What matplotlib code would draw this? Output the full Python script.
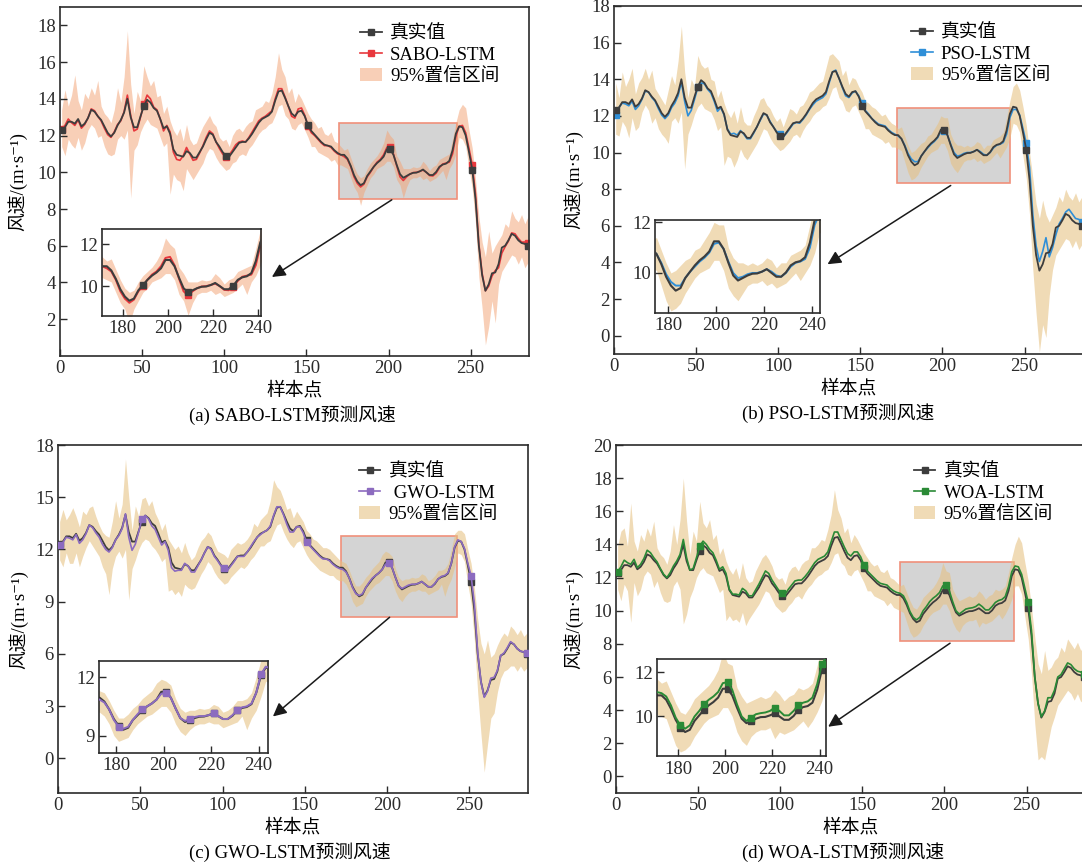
import numpy as np
import matplotlib
matplotlib.use("Agg")
import matplotlib.pyplot as plt
from matplotlib.patches import Rectangle

plt.rcParams['font.family'] = ['Liberation Serif', 'DejaVu Serif', 'Noto Sans CJK SC']
plt.rcParams['axes.unicode_minus'] = False

# sample index (every second sample point)
sample = np.arange(1, 286, 2)

actual = [12.30, 12.45, 12.75, 12.75, 12.65, 12.90, 12.50, 12.65, 12.95, 13.40,
          13.30, 13.05, 12.85, 12.50, 12.15, 11.95, 12.15, 12.55, 12.85, 13.25,
          14.00, 13.00, 12.45, 12.45, 13.05, 13.60, 13.95, 13.80, 13.50, 13.35,
          12.90, 12.40, 12.50, 12.10, 11.25, 10.95, 10.90, 10.85, 11.15, 11.05,
          10.80, 10.80, 11.10, 11.40, 11.80, 12.15, 12.05, 11.65, 11.40, 11.10,
          10.90, 10.85, 11.10, 11.35, 11.60, 11.65, 11.65, 11.85, 12.10, 12.40,
          12.70, 12.90, 13.00, 13.10, 13.30, 13.90, 14.40, 14.45, 14.05, 13.60,
          13.20, 13.05, 13.30, 13.35, 13.05, 12.55, 12.25, 12.05, 11.85, 11.65,
          11.50, 11.45, 11.40, 11.20, 11.05, 10.95, 10.95, 10.75, 10.35, 9.85,
          9.50, 9.30, 9.40, 9.80, 10.05, 10.30, 10.50, 10.65, 10.85, 11.25,
          11.25, 10.95, 10.40, 9.90, 9.70, 9.80, 9.90, 9.97, 9.98, 10.05,
          10.15, 10.00, 9.85, 9.85, 10.02, 10.30, 10.42, 10.47, 10.62, 11.20,
          12.10, 12.50, 12.45, 12.00, 11.10, 10.15, 8.50, 6.00, 4.40, 3.55,
          3.90, 4.50, 4.55, 5.00, 5.90, 6.00, 6.30, 6.65, 6.55, 6.30,
          6.15, 6.10, 6.00]

sabo = [12.35, 12.55, 12.90, 12.70, 12.55, 12.85, 12.40, 12.60, 12.95, 13.45,
        13.35, 13.05, 12.80, 12.40, 12.05, 11.90, 12.20, 12.60, 12.80, 13.30,
        14.20, 13.10, 12.25, 12.35, 13.00, 13.70, 14.20, 14.00, 13.55, 13.40,
        12.90, 12.25, 12.55, 12.20, 11.10, 10.70, 10.65, 10.90, 11.35, 11.00,
        10.65, 10.70, 11.05, 11.45, 11.90, 12.25, 12.10, 11.65, 11.30, 11.00,
        10.85, 10.95, 11.20, 11.50, 11.65, 11.70, 11.65, 11.90, 12.20, 12.50,
        12.80, 12.95, 13.05, 13.20, 13.35, 14.00, 14.55, 14.55, 14.10, 13.60,
        13.05, 12.95, 13.45, 13.50, 13.10, 12.50, 12.15, 12.00, 11.80, 11.60,
        11.45, 11.45, 11.35, 11.15, 11.00, 10.95, 10.85, 10.70, 10.30, 9.75,
        9.40, 9.20, 9.35, 9.75, 10.00, 10.30, 10.55, 10.70, 10.95, 11.35,
        11.40, 11.00, 10.35, 9.75, 9.55, 9.75, 9.90, 9.98, 10.00, 10.05,
        10.12, 10.00, 9.82, 9.80, 9.95, 10.25, 10.45, 10.50, 10.55, 11.00,
        11.95, 12.50, 12.55, 12.15, 11.30, 10.40, 8.80, 6.10, 4.50, 3.55,
        3.80, 4.35, 4.65, 4.80, 5.60, 5.95, 6.25, 6.70, 6.65, 6.40,
        6.20, 6.20, 6.15]

sabo_hi = [13.4, 14.5, 13.6, 14.2, 15.3, 13.9, 13.4, 14.3, 14.0, 14.6,
           14.2, 15.0, 13.6, 13.2, 13.0, 12.7, 13.4, 14.6, 13.8, 15.2,
           17.7, 14.8, 13.2, 14.4, 13.9, 15.8, 15.2, 14.7, 15.0, 14.1,
           14.2, 13.2, 13.6, 12.8, 12.3, 12.0, 12.4, 11.7, 12.6, 11.8,
           11.5, 11.6, 12.1, 12.5, 12.8, 13.1, 12.7, 12.5, 11.9, 11.7,
           11.8, 11.4, 12.0, 12.3, 12.4, 12.2, 12.5, 12.7, 12.8, 13.4,
           13.5, 13.6, 13.9, 13.8, 14.3, 15.2, 16.5, 15.6, 15.2, 14.3,
           14.6, 13.8, 14.3, 14.0, 13.6, 13.2, 12.9, 12.7, 12.4, 12.5,
           12.1, 12.0, 12.2, 11.7, 11.6, 11.4, 11.2, 11.3, 10.8, 10.3,
           9.9, 9.7, 9.8, 10.2, 10.5, 10.7, 10.9, 11.2, 11.6, 12.3,
           12.0, 11.8, 10.9, 10.6, 10.2, 10.2, 10.2, 10.3, 10.25, 10.3,
           10.6, 10.4, 10.1, 10.3, 10.4, 10.7, 10.8, 10.9, 11.0, 11.8,
           12.7, 13.4, 13.7, 13.5, 12.3, 11.3, 9.6, 7.6, 6.2, 5.4,
           6.8, 5.6, 6.0, 6.3, 6.6, 7.2, 7.0, 7.9, 7.5, 7.3,
           7.7, 7.2, 7.6]

sabo_lo = [11.4, 10.9, 11.8, 11.5, 11.3, 11.9, 11.2, 11.6, 12.3, 12.6,
           12.4, 11.9, 12.0, 11.4, 11.0, 10.9, 11.0, 11.8, 12.0, 11.8,
           12.3, 8.6, 11.2, 11.5, 12.2, 12.6, 12.9, 12.6, 12.5, 12.4,
           11.9, 11.4, 11.6, 8.8, 9.9, 9.6, 9.5, 9.0, 10.2, 9.9,
           9.6, 9.9, 10.2, 10.5, 11.0, 11.3, 11.2, 10.8, 10.5, 10.3,
           10.1, 10.2, 10.5, 10.6, 10.9, 11.0, 10.9, 11.3, 11.5, 11.8,
           12.1, 12.3, 12.4, 12.6, 12.7, 13.1, 13.6, 13.7, 13.1, 12.9,
           12.4, 12.3, 12.6, 12.7, 12.3, 11.9, 11.4, 11.4, 11.1, 11.0,
           10.9, 10.8, 10.6, 10.7, 10.4, 10.4, 10.3, 10.2, 9.7, 9.2,
           8.9, 8.2, 8.9, 9.3, 9.7, 9.9, 10.2, 10.3, 10.4, 10.6,
           10.6, 10.3, 9.6, 9.3, 8.6, 9.2, 9.6, 9.7, 9.7, 9.8,
           9.6, 9.7, 9.5, 9.6, 9.7, 9.9, 10.1, 9.6, 10.2, 10.5,
           11.0, 11.9, 11.8, 11.4, 10.2, 9.1, 7.2, 4.3, 2.6, 0.6,
           1.6, 3.0, 1.8, 3.9, 4.6, 4.9, 5.2, 5.5, 5.4, 5.0,
           5.4, 4.8, 5.1]

pso = [12.05, 12.45, 12.70, 12.65, 12.55, 12.80, 12.35, 12.55, 12.90, 13.35,
       13.30, 13.00, 12.80, 12.40, 12.05, 11.85, 12.05, 12.45, 12.70, 13.10,
       13.85, 12.80, 12.00, 12.30, 12.90, 13.55, 13.80, 13.75, 13.45, 13.25,
       12.80, 12.25, 12.45, 12.05, 11.30, 11.00, 11.05, 10.95, 11.20, 11.00,
       10.75, 10.75, 11.05, 11.40, 11.75, 12.10, 12.05, 11.70, 11.40, 11.15,
       11.00, 10.85, 11.05, 11.30, 11.55, 11.65, 11.60, 11.80, 12.05, 12.35,
       12.60, 12.80, 12.90, 13.00, 13.20, 13.80, 14.40, 14.50, 14.05, 13.55,
       13.10, 13.00, 13.25, 13.35, 13.10, 12.70, 12.30, 12.10, 11.85, 11.70,
       11.55, 11.50, 11.45, 11.25, 11.10, 11.00, 10.90, 10.75, 10.40, 9.95,
       9.65, 9.50, 9.50, 9.80, 10.05, 10.25, 10.45, 10.60, 10.80, 11.15,
       11.20, 10.95, 10.45, 10.00, 9.80, 9.85, 9.95, 10.00, 10.00, 10.05,
       10.15, 10.05, 9.90, 9.85, 10.00, 10.25, 10.40, 10.45, 10.55, 11.00,
       11.90, 12.35, 12.35, 12.05, 11.30, 10.50, 9.20, 6.60, 4.90, 4.05,
       4.60, 5.35, 4.30, 4.80, 5.50, 6.10, 6.40, 6.75, 6.90, 6.65,
       6.40, 6.35, 6.20]

pso_hi = [13.8, 13.0, 14.4, 13.6, 14.0, 14.6, 13.2, 13.8, 14.1, 14.6,
          14.0, 14.5, 13.5, 13.2, 12.9, 12.6, 13.4, 14.2, 13.7, 15.0,
          16.9, 14.4, 13.0, 14.0, 13.6, 15.3, 14.8, 14.6, 14.7, 14.0,
          13.9, 13.0, 13.4, 12.7, 12.2, 11.9, 12.3, 11.6, 12.5, 11.7,
          11.5, 11.5, 12.0, 12.4, 12.9, 13.0, 12.6, 12.4, 12.0, 11.7,
          11.9, 11.4, 11.9, 12.4, 12.3, 12.1, 12.5, 12.6, 12.9, 13.3,
          13.4, 13.6, 13.8, 13.9, 14.6, 15.3, 15.4, 15.2, 15.0, 14.2,
          14.5, 13.7, 14.1, 14.0, 13.6, 13.3, 12.8, 12.7, 12.5, 12.4,
          12.2, 12.0, 12.1, 11.8, 11.6, 11.5, 11.3, 11.4, 10.9, 10.4,
          10.0, 10.1, 10.3, 10.5, 10.6, 10.9, 11.0, 11.3, 11.6, 12.0,
          11.9, 11.9, 11.0, 10.6, 10.4, 10.4, 10.3, 10.4, 10.3, 10.4,
          10.6, 10.5, 10.2, 10.4, 10.4, 10.7, 10.8, 10.9, 11.1, 11.9,
          12.8, 13.6, 13.8, 13.4, 12.5, 11.5, 10.0, 8.6, 7.2, 6.4,
          7.4, 6.6, 6.2, 6.6, 7.0, 7.6, 7.3, 8.0, 7.6, 7.4,
          7.8, 7.3, 7.6]

pso_lo = [11.0, 10.9, 11.7, 11.4, 10.8, 11.9, 11.2, 11.4, 12.2, 12.6,
          12.3, 11.6, 11.9, 11.3, 11.0, 10.8, 10.5, 11.7, 11.9, 11.6,
          12.2, 9.1, 11.0, 11.5, 12.1, 12.5, 12.7, 12.4, 12.3, 12.2,
          11.8, 11.2, 11.4, 9.3, 9.8, 9.7, 9.2, 9.6, 10.2, 9.8,
          9.6, 9.9, 10.2, 10.5, 10.9, 11.3, 11.2, 10.8, 10.5, 10.3,
          10.1, 10.2, 10.4, 10.6, 10.9, 11.0, 10.8, 11.2, 11.5, 11.7,
          12.0, 12.2, 12.3, 12.5, 12.6, 13.0, 13.5, 13.6, 13.0, 12.8,
          12.3, 12.2, 12.5, 12.6, 12.2, 11.8, 11.3, 11.3, 11.0, 10.9,
          10.8, 10.7, 10.5, 10.6, 10.3, 10.3, 10.2, 10.1, 9.5, 8.9,
          8.5, 8.6, 8.8, 9.2, 9.5, 9.8, 10.0, 10.1, 10.2, 10.5,
          10.5, 10.1, 9.4, 9.1, 8.9, 9.2, 9.5, 9.6, 9.6, 9.7,
          9.5, 9.6, 9.4, 9.5, 9.6, 9.8, 10.0, 9.7, 10.0, 10.3,
          10.8, 11.6, 11.5, 11.1, 9.8, 8.6, 6.6, 3.6, 1.2, -0.9,
          0.6, -0.1, 2.2, 3.6, 4.4, 4.7, 5.0, 5.3, 5.2, 4.8,
          5.2, 4.7, 5.0]

gwo = [12.25, 12.40, 12.70, 12.65, 12.55, 12.85, 12.35, 12.55, 12.90, 13.40,
       13.25, 12.95, 12.70, 12.30, 12.00, 11.85, 12.10, 12.55, 12.80, 13.20,
       14.05, 12.70, 11.95, 12.30, 13.00, 13.75, 13.95, 13.75, 13.35, 13.15,
       12.70, 12.25, 12.45, 11.95, 10.95, 10.75, 10.80, 10.80, 11.20, 11.05,
       10.70, 10.70, 11.05, 11.40, 11.80, 12.15, 12.00, 11.60, 11.35, 11.05,
       10.95, 10.80, 11.05, 11.30, 11.60, 11.60, 11.60, 11.85, 12.15, 12.45,
       12.70, 12.85, 13.00, 13.10, 13.35, 13.95, 14.45, 14.45, 14.00, 13.45,
       13.00, 13.00, 13.30, 13.30, 12.95, 12.40, 12.20, 12.00, 11.80, 11.60,
       11.45, 11.45, 11.35, 11.15, 11.00, 10.90, 10.85, 10.70, 10.35, 9.80,
       9.45, 9.35, 9.45, 9.80, 10.10, 10.35, 10.50, 10.65, 10.85, 11.15,
       11.20, 10.95, 10.40, 9.90, 9.75, 9.85, 9.95, 10.00, 10.00, 10.05,
       10.15, 10.00, 9.85, 9.85, 10.05, 10.30, 10.45, 10.50, 10.65, 11.20,
       12.15, 12.55, 12.45, 12.05, 11.20, 10.50, 8.90, 6.10, 4.40, 3.50,
       3.85, 4.60, 4.65, 5.05, 5.90, 6.05, 6.35, 6.70, 6.55, 6.30,
       6.15, 6.10, 6.05]

gwo_hi = [13.6, 14.3, 13.7, 14.0, 14.4, 13.9, 13.3, 14.2, 14.0, 14.4,
          14.5, 13.9, 13.4, 13.0, 12.8, 12.7, 13.6, 14.8, 13.8, 14.6,
          17.2, 15.0, 13.1, 14.5, 13.9, 14.9, 15.0, 14.5, 14.8, 14.1,
          13.7, 13.1, 13.5, 12.6, 12.3, 12.0, 12.2, 11.8, 12.4, 11.8,
          11.4, 11.6, 12.1, 12.5, 12.7, 13.0, 12.8, 12.3, 11.9, 11.8,
          11.7, 11.5, 12.0, 12.2, 12.4, 12.3, 12.4, 12.6, 12.9, 13.5,
          13.3, 13.7, 13.9, 14.1, 14.8, 16.0, 15.6, 15.4, 14.9, 14.3,
          14.4, 13.8, 14.2, 13.9, 13.6, 13.1, 12.9, 12.6, 12.5, 12.3,
          12.1, 12.1, 12.0, 11.8, 11.6, 11.4, 11.3, 11.2, 10.8, 10.3,
          9.9, 9.9, 10.1, 10.4, 10.6, 10.9, 11.1, 11.3, 11.7, 11.9,
          11.8, 11.6, 10.9, 10.4, 10.2, 10.3, 10.3, 10.4, 10.35, 10.4,
          10.6, 10.5, 10.2, 10.3, 10.5, 10.8, 10.8, 10.9, 11.2, 12.0,
          12.9, 13.1, 13.1, 12.9, 12.0, 11.2, 9.8, 8.0, 6.6, 6.0,
          6.8, 5.8, 6.0, 6.5, 6.9, 7.2, 7.0, 7.6, 7.4, 7.1,
          7.4, 7.0, 7.2]

gwo_lo = [11.4, 11.0, 11.8, 11.2, 11.2, 11.8, 11.0, 11.6, 12.1, 12.5,
          12.2, 11.9, 11.6, 11.0, 10.6, 9.4, 10.9, 11.6, 11.9, 11.5,
          12.0, 9.1, 10.9, 11.4, 12.0, 12.4, 12.6, 12.5, 12.2, 12.0,
          11.7, 11.3, 11.5, 9.6, 9.7, 9.4, 9.6, 9.3, 10.0, 9.8,
          9.7, 9.8, 10.2, 10.6, 10.9, 11.3, 11.1, 10.7, 10.4, 10.2,
          10.0, 10.1, 10.4, 10.6, 10.8, 11.0, 10.9, 11.1, 11.4, 11.6,
          11.9, 12.2, 12.2, 12.4, 12.5, 13.0, 13.4, 13.5, 13.0, 12.6,
          12.3, 12.1, 12.4, 12.5, 12.1, 11.7, 11.4, 11.2, 11.0, 10.8,
          10.7, 10.6, 10.5, 10.5, 10.3, 10.2, 10.2, 10.0, 9.6, 9.0,
          8.7, 8.8, 8.9, 9.3, 9.6, 9.8, 10.0, 10.1, 10.3, 10.5,
          10.5, 10.2, 9.6, 9.2, 9.0, 9.3, 9.5, 9.6, 9.6, 9.7,
          9.6, 9.6, 9.4, 9.5, 9.6, 9.7, 10.0, 9.3, 9.9, 10.3,
          11.0, 11.8, 11.7, 11.3, 10.0, 8.9, 6.8, 3.8, 1.4, -0.8,
          0.8, 2.3, 2.6, 3.8, 4.6, 5.0, 5.1, 5.3, 5.3, 5.0,
          5.3, 5.0, 5.2]

woa = [12.35, 12.65, 13.05, 12.90, 12.80, 13.10, 12.60, 12.80, 13.15, 13.65,
       13.50, 13.20, 12.95, 12.55, 12.20, 12.00, 12.30, 12.70, 13.00, 13.40,
       14.30, 13.20, 12.45, 12.55, 13.20, 13.90, 14.20, 14.00, 13.70, 13.50,
       13.05, 12.50, 12.65, 12.25, 11.30, 11.00, 11.00, 10.95, 11.35, 11.20,
       10.90, 10.90, 11.25, 11.60, 12.00, 12.40, 12.25, 11.85, 11.55, 11.25,
       11.05, 11.00, 11.30, 11.55, 11.80, 11.85, 11.85, 12.05, 12.30, 12.60,
       12.90, 13.10, 13.20, 13.30, 13.55, 14.15, 14.75, 14.75, 14.30, 13.85,
       13.45, 13.30, 13.55, 13.55, 13.25, 12.75, 12.40, 12.20, 12.00, 11.80,
       11.65, 11.60, 11.55, 11.35, 11.20, 11.10, 11.05, 10.90, 10.50, 9.95,
       9.60, 9.45, 9.60, 10.00, 10.25, 10.55, 10.75, 10.90, 11.10, 11.50,
       11.55, 11.20, 10.55, 10.00, 9.80, 9.95, 10.10, 10.15, 10.18, 10.25,
       10.40, 10.25, 10.05, 10.05, 10.25, 10.50, 10.62, 10.68, 10.85, 11.45,
       12.35, 12.70, 12.65, 12.20, 11.35, 10.50, 8.80, 6.00, 4.40, 3.60,
       3.95, 4.75, 4.75, 5.20, 6.00, 6.15, 6.50, 6.85, 6.75, 6.50,
       6.35, 6.30, 6.20]

woa_hi = [13.9, 14.8, 15.0, 13.9, 16.5, 14.2, 13.6, 14.6, 14.2, 15.0,
          14.5, 15.4, 13.8, 13.4, 13.2, 12.8, 13.6, 15.2, 14.0, 15.5,
          18.0, 15.4, 13.4, 14.8, 14.2, 16.6, 15.3, 15.0, 15.5, 14.3,
          14.6, 13.4, 13.8, 13.0, 12.5, 12.2, 12.6, 11.9, 12.9, 12.0,
          11.7, 11.8, 12.4, 12.8, 13.2, 13.4, 13.1, 12.7, 12.1, 11.9,
          12.0, 11.6, 12.3, 12.6, 12.7, 12.4, 12.8, 13.0, 13.1, 13.8,
          13.8, 14.0, 14.3, 14.2, 14.9, 15.8, 17.3, 16.1, 15.6, 14.7,
          15.0, 14.1, 14.6, 14.3, 13.9, 13.5, 13.2, 12.9, 12.7, 12.8,
          12.4, 12.3, 12.5, 12.0, 11.9, 11.7, 11.5, 11.6, 11.1, 10.6,
          10.2, 10.1, 10.4, 10.8, 11.0, 11.2, 11.4, 11.7, 12.1, 12.9,
          12.4, 12.3, 11.3, 10.9, 10.6, 10.7, 10.8, 10.9, 10.8, 10.9,
          11.2, 11.0, 10.7, 10.9, 11.0, 11.3, 11.2, 11.3, 11.5, 12.3,
          13.2, 14.0, 14.5, 14.1, 12.9, 11.8, 10.2, 8.4, 6.8, 6.2,
          7.6, 6.4, 6.6, 7.0, 7.2, 7.8, 7.5, 8.3, 8.0, 7.7,
          8.1, 7.6, 8.0]

woa_lo = [11.3, 10.6, 11.6, 11.2, 9.3, 11.7, 10.9, 11.3, 12.1, 12.4,
          12.2, 11.4, 11.8, 11.1, 10.6, 10.5, 10.6, 11.5, 11.8, 11.3,
          9.2, 9.8, 10.8, 11.3, 12.0, 12.4, 12.6, 12.3, 12.2, 12.1,
          11.6, 11.1, 11.3, 9.4, 9.7, 9.4, 9.5, 9.3, 9.9, 9.1,
          9.5, 9.8, 10.1, 10.4, 10.8, 11.2, 11.1, 10.7, 10.3, 10.1,
          9.9, 10.0, 10.3, 10.5, 10.8, 10.9, 10.7, 11.1, 11.4, 11.6,
          11.9, 12.1, 12.2, 12.4, 12.5, 12.9, 13.4, 13.5, 12.9, 12.7,
          12.2, 12.1, 12.4, 12.5, 12.1, 11.7, 11.2, 11.2, 10.9, 10.8,
          10.7, 10.6, 10.3, 10.5, 10.2, 10.1, 10.0, 9.9, 9.3, 8.7,
          8.4, 8.5, 8.7, 9.1, 9.4, 9.7, 9.9, 10.0, 10.1, 10.4,
          10.4, 10.0, 9.3, 8.9, 8.7, 9.1, 9.3, 9.4, 9.4, 9.5,
          9.0, 9.3, 9.2, 9.3, 9.4, 9.6, 9.8, 9.5, 9.8, 10.2,
          10.7, 11.5, 11.5, 11.0, 9.6, 8.3, 6.2, 3.2, 1.0, 1.2,
          1.0, 2.0, 3.0, 3.6, 4.3, 4.6, 4.9, 5.2, 5.0, 4.6,
          5.0, 4.5, 4.8]

TRUE_COLOR = '#3d3d3d'
FS = 13.5

fig = plt.figure(figsize=(10.82, 8.68), dpi=100)


def style_axes(ax, fs):
    for sp in ax.spines.values():
        sp.set_linewidth(1.2)
        sp.set_color('#2b2b2b')
    ax.tick_params(direction='in', length=5, width=1.0, labelsize=fs,
                   pad=3, top=False, right=False, colors='#2b2b2b')


def panel(rect, pred, lo, hi, name, color, band_color, band_alpha, ylim,
          yticks, zoom_box, inset_rect, inset_xlim, inset_ylim, inset_yticks,
          arrow_from, arrow_to, inset_marks, legend_x, label_x, caption,
          caption_x, pred_on_top):
    ax = fig.add_axes(rect)
    main_marks = [0, 25, 50, 75, 100, 125, 142]
    zt = 3 if not pred_on_top else 2
    zp = 2 if not pred_on_top else 3

    x0, x1, y0, y1 = zoom_box
    ax.add_patch(Rectangle((x0, y0), x1 - x0, y1 - y0, facecolor='#d4d4d4',
                           edgecolor='#f0907a', lw=1.2, zorder=0.5))
    band = ax.fill_between(sample, lo, hi, color=band_color,
                           alpha=band_alpha, lw=0, zorder=1)
    h_true, = ax.plot(sample, actual, color=TRUE_COLOR, lw=1.3, marker='s',
                      ms=5, markevery=main_marks, zorder=zt)
    h_pred, = ax.plot(sample, pred, color=color, lw=1.2, marker='s', ms=5,
                      markevery=main_marks, zorder=zp)
    ax.set_xlim(0, 285.6)
    ax.set_ylim(*ylim)
    ax.set_yticks(yticks)
    ax.set_xticks([0, 50, 100, 150, 200, 250])
    style_axes(ax, FS)
    ax.set_ylabel('风速/(m·s⁻¹)', fontsize=FS)
    ax.yaxis.set_label_coords(label_x, 0.5)

    ax.legend([h_true, h_pred, band], ['真实值', name, '95%置信区间'],
              loc='upper left', bbox_to_anchor=(legend_x, 0.948),
              frameon=False, borderpad=0, borderaxespad=0,
              handlelength=1.15, handletextpad=0.45, labelspacing=0.22,
              fontsize=FS, numpoints=1)

    ax.annotate('', xy=arrow_to, xytext=arrow_from,
                arrowprops=dict(arrowstyle='-|>', color='#1a1a1a', lw=1.1,
                                mutation_scale=20, shrinkA=0, shrinkB=0),
                zorder=6)

    axin = ax.inset_axes(inset_rect)
    axin.fill_between(sample, lo, hi, color=band_color, alpha=band_alpha,
                      lw=0, zorder=1)
    axin.plot(sample, actual, color=TRUE_COLOR, lw=1.5, marker='s', ms=5,
              markevery=inset_marks, zorder=zt)
    axin.plot(sample, pred, color=color, lw=1.4, marker='s', ms=5,
              markevery=inset_marks, zorder=zp)
    axin.set_xlim(*inset_xlim)
    axin.set_ylim(*inset_ylim)
    axin.set_xticks([180, 200, 220, 240])
    axin.set_yticks(inset_yticks)
    style_axes(axin, FS)

    bbox = ax.get_position()
    cx = bbox.x0 + bbox.width / 2
    fig.text(cx, bbox.y0 - 0.040, '样本点', ha='center', va='center',
             fontsize=FS)
    fig.text(caption_x, bbox.y0 - 0.068, caption, ha='center', va='center',
             fontsize=FS)
    return ax


inset_marks_cd = [90, 95, 100, 105, 110, 115, 120]

panel([0.0555, 0.5899, 0.4335, 0.4021], sabo, sabo_lo, sabo_hi,
      'SABO-LSTM', '#e8383d', '#f3a375', 0.52, (0, 19), range(2, 19, 2),
      (170, 241.5, 8.55, 12.7), [0.090, 0.114, 0.338, 0.249],
      (171, 241.2), (8.56, 12.72), [10, 12], (202, 8.5), (129, 4.3),
      [94, 104, 114], 0.64, -0.070, '(a) SABO-LSTM预测风速', 0.270, False)

panel([0.5675, 0.5922, 0.4335, 0.4009], pso, pso_lo, pso_hi,
      'PSO-LSTM', '#2f8fd8', '#e6c182', 0.58, (-1, 18), range(0, 19, 2),
      (172.5, 241.2, 8.36, 12.45), [0.088, 0.118, 0.351, 0.266],
      (174.5, 243.2), (8.42, 12.08), [10, 12], (205, 8.2), (130, 3.9),
      [], 0.633, -0.066, '(b) PSO-LSTM预测风速', 0.775, False)

panel([0.0536, 0.0864, 0.4344, 0.4009], gwo, gwo_lo, gwo_hi,
      ' GWO-LSTM', '#8c6bbf', '#e6c182', 0.58, (-2, 18), range(0, 19, 3),
      (171.9, 242.3, 8.13, 12.79), [0.087, 0.115, 0.359, 0.265],
      (172.7, 243.8), (8.1, 12.85), [9, 12], (201.5, 8.1), (130.6, 2.4),
      inset_marks_cd, 0.64, -0.064, '(c) GWO-LSTM预测风速', 0.268, True)

panel([0.5693, 0.0864, 0.4335, 0.4009], woa, woa_lo, woa_hi,
      'WOA-LSTM', '#2a8a36', '#e6c182', 0.58, (-1, 20), range(0, 21, 2),
      (172.7, 242.2, 8.18, 12.96), [0.088, 0.105, 0.359, 0.279],
      (171.2, 242.6), (8.2, 12.57), [10, 12], (203.4, 8.04), (129.2, 3.0),
      inset_marks_cd, 0.635, -0.070, '(d) WOA-LSTM预测风速', 0.779, True)

fig.savefig('out.png', dpi=100)
